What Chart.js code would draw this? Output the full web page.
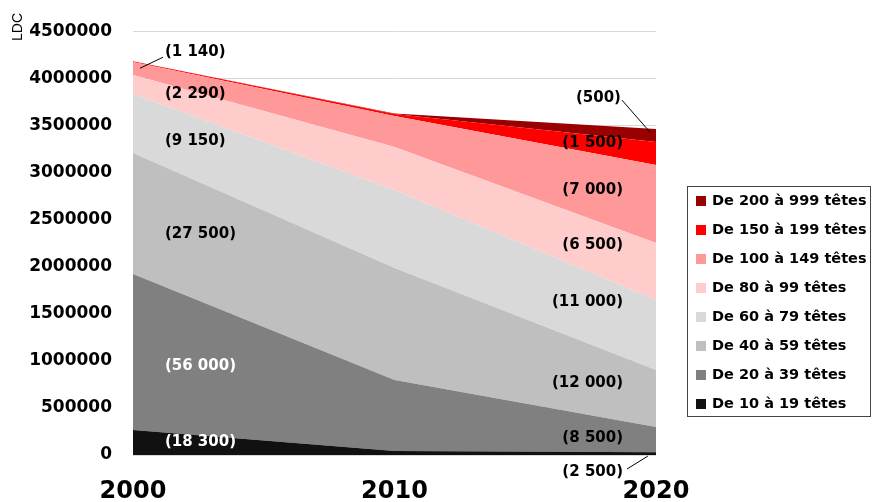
<!DOCTYPE html>
<html>
<head>
<meta charset="utf-8">
<script src="https://cdn.jsdelivr.net/npm/chart.js@4/dist/chart.umd.min.js"></script>
<style>
  body { margin: 0; background: #fff; }
  #wrap { position: relative; width: 872px; height: 502px; }
  #legend {
    position: absolute; left: 687px; top: 186px; width: 184px; height: 231px;
    border: 1px solid #444; box-sizing: border-box;
    font: bold 14.5px "DejaVu Sans", sans-serif; color: #000;
  }
  #legend ul { list-style: none; margin: 0; padding: 0; position: relative; top: -1px; }
  #legend li { height: 29px; line-height: 29px; white-space: nowrap; }
  #legend span.box { display: inline-block; width: 10px; height: 10px; margin: 0 6px 0 8px; vertical-align: -1px; }
</style>
</head>
<body>
<div id="wrap">
  <canvas id="chart" width="872" height="502"></canvas>
  <div id="legend"><ul id="legendList"></ul></div>
</div>
<script>
// years on the x axis
const years = [2000, 2010, 2020];

// LDC per herd size class, bottom of the stack first
const t10 = [265000, 42000, 30000];
const t20 = [1656000, 754000, 267000];
const t40 = [1285000, 1189000, 605000];
const t60 = [626000, 828000, 743000];
const t80 = [202000, 457000, 606000];
const t100 = [138000, 330000, 828000];
const t150 = [10000, 20000, 244000];
const t200 = [0, 5000, 138000];

const seriesNames = [
  'De 10 à 19 têtes', 'De 20 à 39 têtes', 'De 40 à 59 têtes', 'De 60 à 79 têtes',
  'De 80 à 99 têtes', 'De 100 à 149 têtes', 'De 150 à 199 têtes', 'De 200 à 999 têtes'
];
const seriesValues = [t10, t20, t40, t60, t80, t100, t150, t200];
const seriesColors = ['#111111', '#808080', '#bfbfbf', '#d9d9d9', '#ffcccc', '#ff9999', '#ff0000', '#990000'];

// y axis ticks
const yMax = 4500000;
const yStep = 500000;

// number of farms per class, written on the areas
const farmLabels2000 = ['(18 300)', '(56 000)', '(27 500)', '(9 150)', '(2 290)', '(1 140)'];
const farmLabels2020 = ['(2 500)', '(8 500)', '(12 000)', '(11 000)', '(6 500)', '(7 000)', '(1 500)', '(500)'];

// where those labels sit, in axis units [year, LDC]
const anchors2000 = [[2001.22, 138000], [2001.22, 945000], [2001.22, 2346000], [2001.22, 3333000], [2001.22, 3831000], [2001.22, 4277000]];
const anchors2020 = [[2018.74, -180000], [2018.74, 180000], [2018.74, 764000], [2018.74, 1624000], [2018.74, 2229000], [2018.74, 2812000], [2018.74, 3311000], [2018.66, 3789000]];
const whiteLabels = ['(18 300)', '(56 000)'];
// small leader lines [x1, y1, x2, y2]
const leaders = [
  [2000.27, 4107000, 2001.15, 4224000],
  [2018.70, 3768000, 2019.77, 3428000],
  [2018.89, -149000, 2019.69, -11000]
];

const datasets = seriesNames.map((name, i) => ({
  label: name,
  data: years.map((y, j) => ({x: y, y: seriesValues[i][j]})),
  backgroundColor: seriesColors[i],
  borderColor: seriesColors[i],
  borderWidth: 0,
  pointRadius: 0,
  tension: 0,
  fill: i === 0 ? 'origin' : '-1'
}));

// html legend, top class first
const legendList = document.getElementById('legendList');
for (let i = seriesNames.length - 1; i >= 0; i--) {
  const li = document.createElement('li');
  const box = document.createElement('span');
  box.className = 'box';
  box.style.background = seriesColors[i];
  li.appendChild(box);
  li.appendChild(document.createTextNode(seriesNames[i]));
  legendList.appendChild(li);
}

const annotationsPlugin = {
  id: 'annotations',
  afterDraw: (chart) => {
    const ctx = chart.ctx;
    const xs = chart.scales.x;
    const ys = chart.scales.y;
    ctx.save();
    ctx.font = 'bold 15px "DejaVu Sans", sans-serif';
    ctx.textBaseline = 'middle';
    ctx.textAlign = 'left';
    farmLabels2000.forEach((txt, i) => {
      ctx.fillStyle = whiteLabels.includes(txt) ? '#ffffff' : '#000000';
      ctx.fillText(txt, xs.getPixelForValue(anchors2000[i][0]), ys.getPixelForValue(anchors2000[i][1]));
    });
    ctx.textAlign = 'right';
    ctx.fillStyle = '#000000';
    farmLabels2020.forEach((txt, i) => {
      ctx.fillText(txt, xs.getPixelForValue(anchors2020[i][0]), ys.getPixelForValue(anchors2020[i][1]));
    });
    ctx.strokeStyle = '#000000';
    ctx.lineWidth = 1;
    leaders.forEach((l) => {
      ctx.beginPath();
      ctx.moveTo(xs.getPixelForValue(l[0]), ys.getPixelForValue(l[1]));
      ctx.lineTo(xs.getPixelForValue(l[2]), ys.getPixelForValue(l[3]));
      ctx.stroke();
    });
    // unit of the y axis
    ctx.translate(18, 27);
    ctx.rotate(-Math.PI / 2);
    ctx.textAlign = 'center';
    ctx.font = '14px "Liberation Sans", Arial, sans-serif';
    ctx.fillText('LDC', 0, 0);
    ctx.restore();
  }
};

const config = {
  type: 'line',
  data: { datasets: datasets },
  options: {
    responsive: false,
    animation: false,
    layout: { padding: { top: 31, right: 216, left: 0, bottom: 0 } },
    plugins: {
      legend: { display: false },
      tooltip: { enabled: false }
    },
    scales: {
      x: {
        type: 'linear',
        min: 2000,
        max: 2020,
        grid: { display: false, drawTicks: false },
        border: { display: false },
        afterFit: (scale) => { scale.height = 47; },
        ticks: {
          stepSize: 10,
          padding: 25,
          color: '#000',
          font: { family: 'DejaVu Sans', weight: 'bold', size: 24, lineHeight: 1 },
          callback: (value) => String(value)
        }
      },
      y: {
        stacked: true,
        min: 0,
        max: yMax,
        grid: { color: '#d9d9d9', drawTicks: false },
        border: { display: false },
        afterFit: (scale) => { scale.width = 133; },
        ticks: {
          stepSize: yStep,
          padding: 21,
          color: '#000',
          font: { family: 'DejaVu Sans', weight: 'bold', size: 17 },
          callback: (value) => String(value)
        }
      }
    }
  },
  plugins: [annotationsPlugin]
};

const myChart = new Chart(document.getElementById('chart'), config);
</script>
</body>
</html>
